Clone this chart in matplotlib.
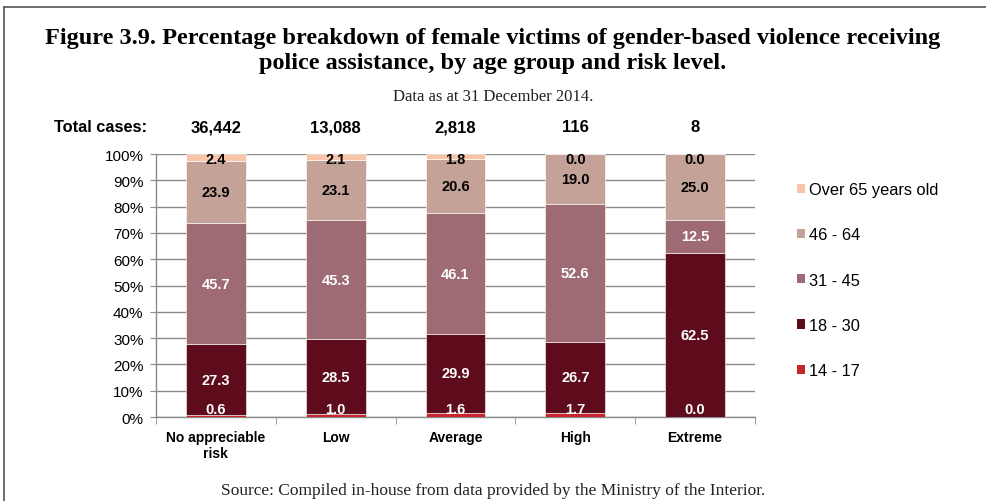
import matplotlib
matplotlib.use("Agg")
import matplotlib.pyplot as plt
from matplotlib.patches import Patch
from matplotlib.lines import Line2D
import numpy as np

categories = ["No appreciable\nrisk", "Low", "Average", "High", "Extreme"]
total_cases = ["36,442", "13,088", "2,818", "116", "8"]
series_names = ["14 - 17", "18 - 30", "31 - 45", "46 - 64", "Over 65 years old"]
age_14_17 = [0.6, 1.0, 1.6, 1.7, 0.0]
age_18_30 = [27.3, 28.5, 29.9, 26.7, 62.5]
age_31_45 = [45.7, 45.3, 46.1, 52.6, 12.5]
age_46_64 = [23.9, 23.1, 20.6, 19.0, 25.0]
age_over65 = [2.4, 2.1, 1.8, 0.0, 0.0]
yticks = [0, 10, 20, 30, 40, 50, 60, 70, 80, 90, 100]

series = [age_14_17, age_18_30, age_31_45, age_46_64, age_over65]
colors = ["#C8242B", "#5E0C1C", "#9E6B74", "#C4A298", "#F9C5A9"]
text_colors = ["white", "white", "white", "black", "black"]

plt.rcParams['font.family'] = ['Liberation Sans', 'DejaVu Sans']

fig = plt.figure(figsize=(9.86, 5.02), dpi=100)
ax = fig.add_axes([0.1582, 0.1673, 0.6075, 0.5239])

x = np.arange(len(categories))
bottom = np.zeros(len(categories))
for i, (vals, col) in enumerate(zip(series, colors)):
    vals = np.array(vals)
    ax.bar(x, vals, width=0.5, bottom=bottom, color=col, edgecolor="white",
           linewidth=0.4, zorder=3, label=series_names[i])
    for j, v in enumerate(vals):
        if i == 0:
            ax.annotate(f"{v:.1f}", (x[j], 0), xytext=(0, 0.5), textcoords="offset points",
                        ha="center", va="bottom", color=text_colors[i],
                        fontsize=10.5, fontweight="bold", zorder=5)
        elif i == 4:
            ax.annotate(f"{v:.1f}", (x[j], 100), xytext=(0, 1.5), textcoords="offset points",
                        ha="center", va="top", color=text_colors[i],
                        fontsize=10.5, fontweight="bold", zorder=5)
        else:
            ax.text(x[j], bottom[j] + v / 2, f"{v:.1f}", ha="center", va="center",
                    color=text_colors[i], fontsize=10.5, fontweight="bold", zorder=5)
    bottom += vals

ax.set_xlim(-0.5, len(categories) - 0.5)
ax.set_ylim(0, 100)
ax.set_yticks(yticks)
ax.set_yticklabels([f"{t}%" for t in yticks], fontsize=11)
ax.yaxis.grid(True, color="#8a8a8a", linewidth=1.0, zorder=0)
ax.set_xticks(x)
ax.set_xticklabels(categories, fontsize=10, fontweight="bold", linespacing=1.2)
ax.set_xticks(np.arange(-0.5, len(categories)), minor=True)
ax.tick_params(axis="x", which="major", length=0, pad=9)
ax.tick_params(axis="x", which="minor", length=5, color="#8a8a8a", direction="out")
ax.tick_params(axis="y", length=4, color="#8a8a8a", pad=5)
for s in ["top", "right"]:
    ax.spines[s].set_visible(False)
for s in ["left", "bottom"]:
    ax.spines[s].set_color("#8a8a8a")
    ax.spines[s].set_linewidth(1.0)

for j, t in enumerate(total_cases):
    ax.text(x[j], 110.3, t, ha="center", va="center", fontsize=12, fontweight="bold", clip_on=False)
fig.text(100 / 986, 1 - 128 / 502, "Total cases:", ha="center", va="center", fontsize=11.8, fontweight="bold")

handles = [Patch(facecolor=colors[i], edgecolor="none") for i in range(4, -1, -1)]
labels = [series_names[i] for i in range(4, -1, -1)]
fig.legend(handles, labels, loc="upper left", bbox_to_anchor=(0.808, 1 - 183 / 502),
           frameon=False, fontsize=11.8, handlelength=0.5, handleheight=0.5,
           handletextpad=0.25, labelspacing=1.85, borderaxespad=0, borderpad=0)

fig.text(0.5, 1 - 51 / 502, "Figure 3.9. Percentage breakdown of female victims of gender-based violence receiving\npolice assistance, by age group and risk level.",
         ha="center", va="center", fontsize=17.5, fontweight="bold", family="Liberation Serif", linespacing=1.2)
fig.text(0.5, 1 - 97 / 502, "Data as at 31 December 2014.", ha="center", va="center",
         fontsize=12, family="Liberation Serif", color="#222222")
fig.text(0.5, 1 - 491 / 502, "Source: Compiled in-house from data provided by the Ministry of the Interior.",
         ha="center", va="center", fontsize=12.5, family="Liberation Serif", color="#222222")

fig.add_artist(Line2D([4 / 986, 1.0], [1 - 8 / 502, 1 - 8 / 502], color="#555555", linewidth=1.2,
                      transform=fig.transFigure))
fig.add_artist(Line2D([4 / 986, 4 / 986], [0, 1 - 8 / 502], color="#555555", linewidth=1.2,
                      transform=fig.transFigure))

fig.savefig("out.png", dpi=100)
